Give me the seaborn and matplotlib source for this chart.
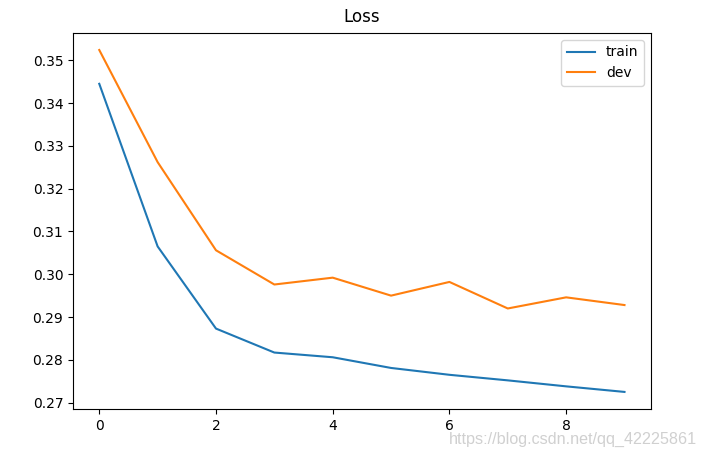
import matplotlib
matplotlib.use("Agg")
import matplotlib.pyplot as plt
import seaborn as sns
import pandas as pd

epochs = [0, 1, 2, 3, 4, 5, 6, 7, 8, 9]
train_loss = [0.3445, 0.3065, 0.2873, 0.2817, 0.2806, 0.2781, 0.2765, 0.2752, 0.2738, 0.2725]
dev_loss = [0.3524, 0.3262, 0.3056, 0.2976, 0.2992, 0.2950, 0.2982, 0.2920, 0.2946, 0.2928]
x_ticks = [0, 2, 4, 6, 8]
y_ticks = [0.27, 0.28, 0.29, 0.30, 0.31, 0.32, 0.33, 0.34, 0.35]

df = pd.DataFrame({"epoch": epochs, "train": train_loss, "dev": dev_loss})

fig, ax = plt.subplots(figsize=(7.02, 4.57), dpi=100)
fig.subplots_adjust(left=0.104, right=0.927, top=0.928, bottom=0.105)

sns.lineplot(data=df, x="epoch", y="train", ax=ax, color="#1f77b4", label="train", linewidth=1.5)
sns.lineplot(data=df, x="epoch", y="dev", ax=ax, color="#ff7f0e", label="dev", linewidth=1.5)

ax.set_xticks(x_ticks)
ax.set_yticks(y_ticks)
ax.set_yticklabels([f"{v:.2f}" for v in y_ticks])
ax.set_xlabel("")
ax.set_ylabel("")
ax.set_title("Loss", fontsize=12, pad=8)
ax.tick_params(labelsize=10)
ax.legend(loc="upper right", fontsize=10)

fig.text(0.993, 0.022, "https://blog.csdn.net/qq_42225861", ha="right", va="bottom",
         color="#d0d0d0", fontsize=11.6, family="Liberation Sans")

fig.savefig("out.png", dpi=100)
